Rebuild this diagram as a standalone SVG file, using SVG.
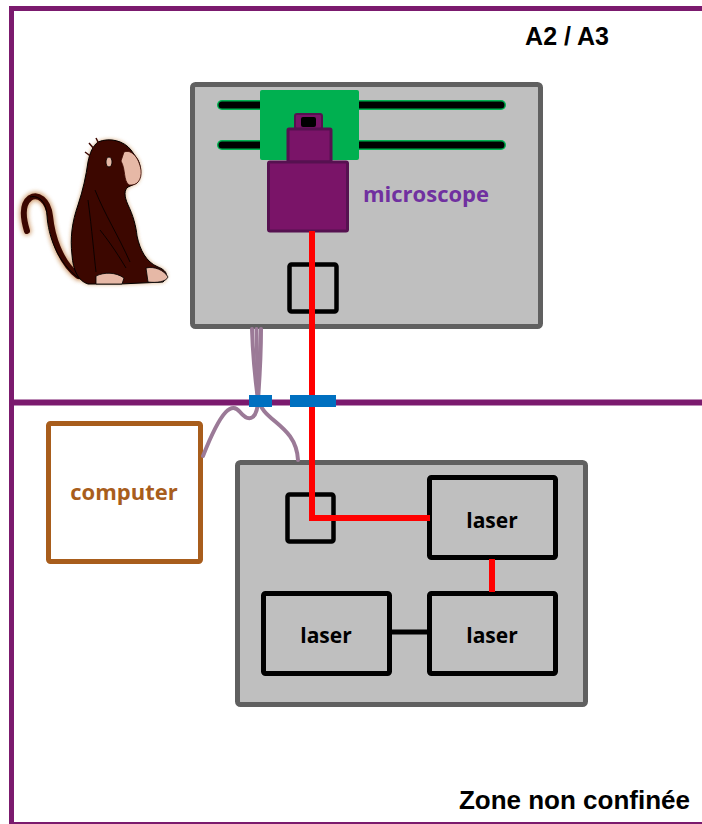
<svg xmlns="http://www.w3.org/2000/svg" width="702" height="824" viewBox="0 0 702 824">
  <style>
    .zone { stroke: #7b1a6e; fill: none; }
    .bench { fill: #bfbfbf; stroke: #606060; stroke-width: 5; }
    .box { fill: none; stroke: #000; stroke-width: 4.5; }
    .unit { fill: #bfbfbf; stroke: #000; stroke-width: 5; }
    .lbl { font-family: "Open Sans", "Noto Sans", sans-serif; font-weight: bold; text-anchor: middle; }
    .title { font-family: "Liberation Sans", Arial, sans-serif; font-weight: bold; fill: #000; }
    .beam { stroke: #ff0000; stroke-width: 6; fill: none; }
    .cable { stroke: #9b7a97; stroke-width: 4; fill: none; stroke-linecap: round; }
    .port { fill: #0070c0; }
  </style>
  <defs>
    <filter id="glow" x="-20%" y="-20%" width="140%" height="140%">
      <feGaussianBlur stdDeviation="2"/>
    </filter>
  </defs>

  <rect width="702" height="824" fill="#fff"/>

  <!-- zone boundaries -->
  <g id="zones">
    <line class="zone" x1="9" y1="8.5" x2="702" y2="8.5" stroke-width="5"/>
    <line class="zone" x1="11.5" y1="6" x2="11.5" y2="824" stroke-width="5"/>
    <line class="zone" x1="9" y1="402.5" x2="702" y2="402.5" stroke-width="6"/>
    <line class="zone" x1="9" y1="823" x2="702" y2="823" stroke-width="2"/>
    <text class="title" x="567" y="45" font-size="25" text-anchor="middle">A2 / A3</text>
    <text class="title" x="690" y="809" font-size="26" text-anchor="end">Zone non confinée</text>
  </g>

  <!-- sitting monkey -->
  <g id="monkey">
    <path d="M78,276 C60,262 52,236 50,216 C48,200 38,193 30,198 C22,204 23,218 27,231" stroke="#b5651d" stroke-width="9" fill="none" stroke-linecap="round" filter="url(#glow)" opacity="0.6"/>
    <path d="M98,142 C110,137 124,141 131,150 L138,160 C142,168 141,178 137,183 L128,187 C124,190 124,196 128,205 C133,215 136,226 137,236 C140,250 146,262 158,267 C166,270 170,276 163,282 L120,284 L88,284 C78,281 73,270 72,255 C70,238 72,222 78,205 C83,190 86,176 88,162 C90,152 93,146 98,142 Z" fill="#b5651d" filter="url(#glow)" opacity="0.7"/>
    <path d="M78,276 C60,262 52,236 50,216 C48,200 38,193 30,198 C22,204 23,218 27,231" stroke="#3c0700" stroke-width="6" fill="none" stroke-linecap="round"/>
    <path d="M80,279 C58,264 48,236 47,215 C46,201 38,195 30,197" stroke="#000" stroke-width="1" fill="none"/>
    <path d="M98,142 C110,137 124,141 131,150 L138,160 C142,168 141,178 137,183 L128,187 C124,190 124,196 128,205 C133,215 136,226 137,236 C140,250 146,262 158,267 C166,270 170,276 163,282 L120,284 L88,284 C78,281 73,270 72,255 C70,238 72,222 78,205 C83,190 86,176 88,162 C90,152 93,146 98,142 Z" fill="#3c0700" stroke="#000" stroke-width="1"/>
    <!-- face, ear, hands and feet -->
    <path d="M124,152 C132,149 139,158 141,170 C142,180 137,186 129,185 C123,180 126,170 121,161 Z" fill="#e6b8a6" stroke="#3c0700" stroke-width="0.8"/>
    <ellipse cx="109" cy="162" rx="3" ry="5" fill="#e6b8a6" stroke="#000" stroke-width="0.8"/>
    <path d="M146,268 C154,266 164,270 168,277 C166,282 156,283 148,282 Z" fill="#e6b8a6" stroke="#000" stroke-width="0.8"/>
    <path d="M96,276 C104,272 116,272 124,278 L122,284 L96,284 Z" fill="#e6b8a6" stroke="#000" stroke-width="0.8"/>
    <path d="M95,190 C105,215 118,235 130,262 M100,230 C112,245 120,258 126,268 M88,200 C92,230 94,255 96,272" stroke="#000" stroke-width="0.8" fill="none"/>
    <path d="M95,150 L89,143 M100,146 L96,138 M93,158 L85,152" stroke="#3c0700" stroke-width="1.5"/>
  </g>

  <!-- microscope stage -->
  <g id="microscope-stage">
    <rect class="bench" x="192.5" y="84.5" width="348" height="242" rx="3"/>
    <line x1="222" y1="105" x2="501" y2="105" stroke="#00b050" stroke-width="10" stroke-linecap="round"/>
    <line x1="222" y1="145" x2="501" y2="145" stroke="#00b050" stroke-width="10" stroke-linecap="round"/>
    <line x1="222" y1="105" x2="501" y2="105" stroke="#000" stroke-width="7" stroke-linecap="round"/>
    <line x1="222" y1="145" x2="501" y2="145" stroke="#000" stroke-width="7" stroke-linecap="round"/>
    <rect x="260" y="90" width="99" height="70" rx="2" fill="#00b050"/>
    <rect class="box" x="289.5" y="264.5" width="47" height="47" rx="2"/>
  </g>

  <g id="microscope">
    <rect x="295" y="114" width="27" height="15" rx="2" fill="#7a1468" stroke="#561150" stroke-width="2"/>
    <rect x="301" y="117" width="15" height="10" rx="2" fill="#000"/>
    <rect x="288" y="129" width="43" height="33" rx="1" fill="#7a1468" stroke="#561150" stroke-width="3"/>
    <rect x="268.5" y="162" width="79" height="69" rx="1.5" fill="#7a1468" stroke="#561150" stroke-width="3"/>
    <text x="426" y="202" font-family="Open Sans, Noto Sans, sans-serif" font-weight="bold" font-size="22" fill="#7030a0" text-anchor="middle">microscope</text>
  </g>

  <!-- computer -->
  <g id="computer">
    <rect x="48.5" y="423.5" width="152" height="138" rx="2" fill="#fff" stroke="#a85d1c" stroke-width="5"/>
    <text class="lbl" x="124" y="500" font-size="22" fill="#a85d1c">computer</text>
  </g>

  <!-- laser bench -->
  <g id="laser-bench">
    <rect class="bench" x="237.5" y="462.5" width="348" height="242" rx="3"/>
    <rect class="box" x="287.5" y="494.5" width="46" height="47" rx="2"/>
  </g>

  <g id="laser-1">
    <rect class="unit" x="429.5" y="477.5" width="126" height="80" rx="2"/>
    <text class="lbl" x="492" y="528" font-size="21" fill="#000">laser</text>
  </g>
  <g id="laser-2">
    <rect class="unit" x="429.5" y="593.5" width="126" height="80" rx="2"/>
    <text class="lbl" x="492" y="643" font-size="21" fill="#000">laser</text>
  </g>
  <g id="laser-3">
    <rect class="unit" x="263.5" y="593.5" width="126" height="80" rx="2"/>
    <text class="lbl" x="326" y="643" font-size="21" fill="#000">laser</text>
  </g>

  <!-- beam path, cables and wall feedthroughs -->
  <g id="connectors">
    <path class="cable" d="M252,329 C253,360 256,385 258,400"/>
    <path class="cable" d="M256.5,329 C257,360 257.5,385 258,400"/>
    <path class="cable" d="M261,329 C261,360 259,385 258,400"/>
    <path class="cable" d="M258,398 C258,418 250,424 240,412 C232,402 222,408 203,456"/>
    <path class="cable" d="M258,398 C262,422 296,424 298,460"/>
    <path class="beam" d="M312,231 V518 H430"/>
    <line class="beam" x1="492" y1="559" x2="492" y2="592"/>
    <line x1="390" y1="632" x2="428" y2="632" stroke="#000" stroke-width="5"/>
    <rect class="port" x="249" y="395" width="23" height="12"/>
    <rect class="port" x="290" y="395" width="46" height="12"/>
  </g>
</svg>
